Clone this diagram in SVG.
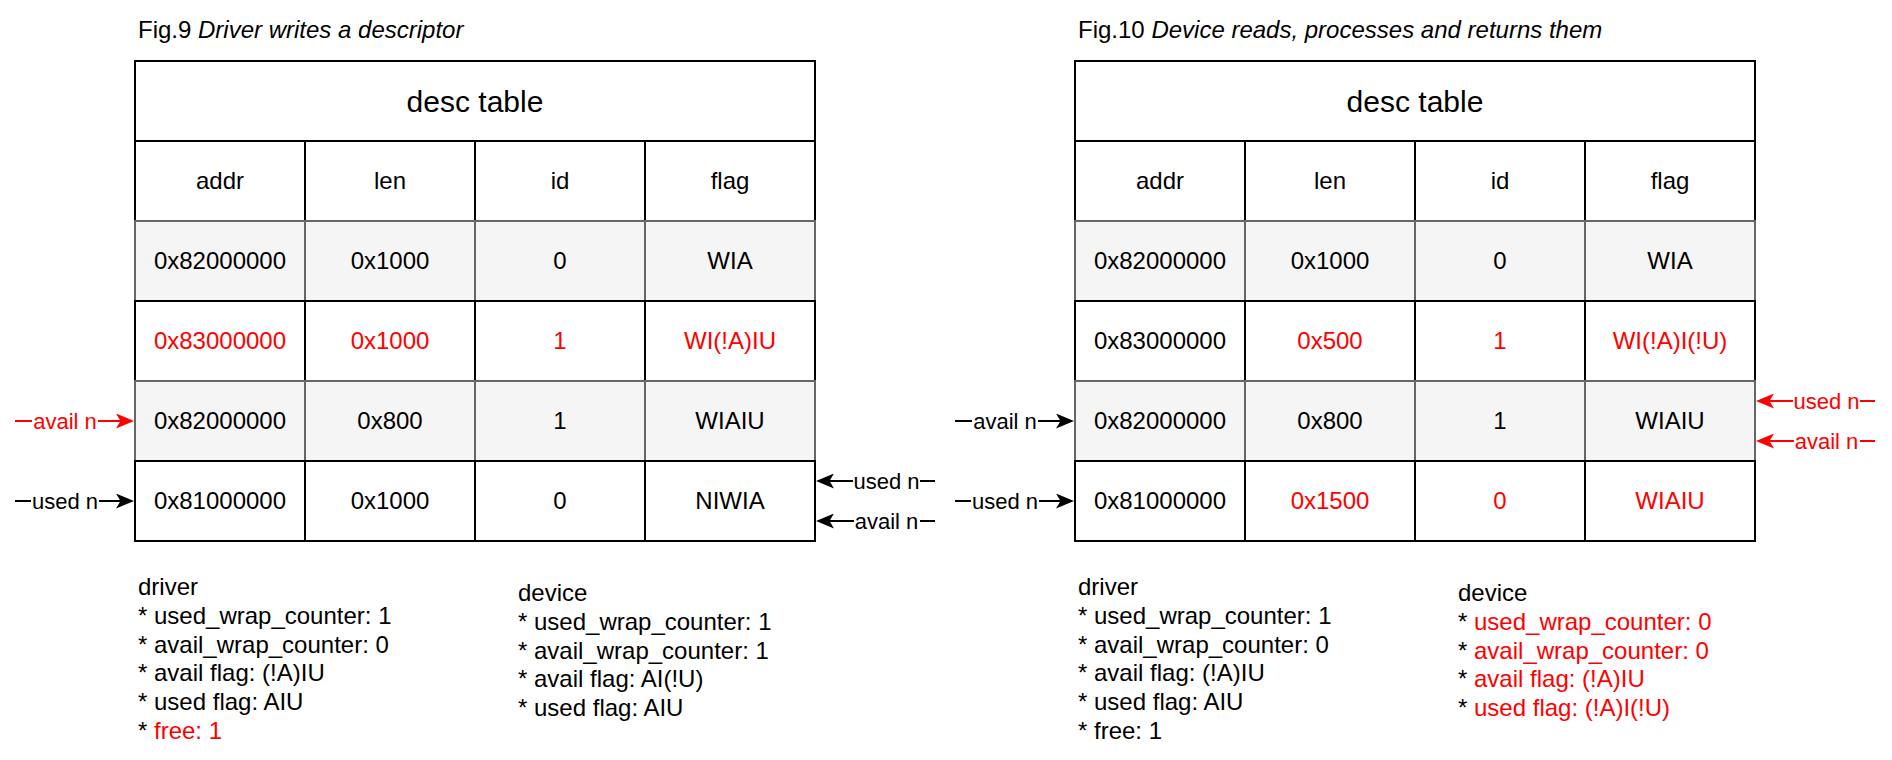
<svg xmlns="http://www.w3.org/2000/svg" width="1892" height="760" viewBox="0 0 1892 760">
<style>
text{font-family:"Liberation Sans",Arial,Helvetica,sans-serif;fill:#000}
.t{font-size:24px}
.c{font-size:24px;text-anchor:middle}
.h{font-size:30px;text-anchor:middle}
.lbl{font-size:22px;text-anchor:middle}
.r{fill:#ff0000}
.w{fill:#fff;stroke:#000;stroke-width:2}
.g{fill:#f5f5f5;stroke:#666;stroke-width:2}
.e{fill:none;stroke:#000;stroke-width:2}
.er{fill:none;stroke:#ff0000;stroke-width:2}
.bg{fill:#fff}
</style>
<defs>
<marker id="ab" viewBox="0 0 18 15" refX="10" refY="7.5" markerWidth="18" markerHeight="15" markerUnits="userSpaceOnUse" orient="auto"><path d="M0,0 L18,7.5 L0,15 L4.5,7.5 Z" fill="#000"/></marker>
<marker id="ar" viewBox="0 0 18 15" refX="10" refY="7.5" markerWidth="18" markerHeight="15" markerUnits="userSpaceOnUse" orient="auto"><path d="M0,0 L18,7.5 L0,15 L4.5,7.5 Z" fill="#ff0000"/></marker>
</defs>

<g id="title9"><text class="t" x="138" y="38">Fig.9 <tspan font-style="italic">Driver writes a descriptor</tspan></text></g>
<g id="title10"><text class="t" x="1078" y="38">Fig.10 <tspan font-style="italic">Device reads, processes and returns them</tspan></text></g>

<!-- Left table -->
<g id="t9-header"><rect class="w" x="135" y="61" width="680" height="80"/><text class="h" x="475" y="112">desc table</text></g>
<g id="t9-cols">
<rect class="w" x="135" y="141" width="170" height="80"/><rect class="w" x="305" y="141" width="170" height="80"/><rect class="w" x="475" y="141" width="170" height="80"/><rect class="w" x="645" y="141" width="170" height="80"/>
<text class="c" x="220" y="189">addr</text><text class="c" x="390" y="189">len</text><text class="c" x="560" y="189">id</text><text class="c" x="730" y="189">flag</text>
</g>
<g id="t9-row1">
<rect class="g" x="135" y="221" width="170" height="80"/><rect class="g" x="305" y="221" width="170" height="80"/><rect class="g" x="475" y="221" width="170" height="80"/><rect class="g" x="645" y="221" width="170" height="80"/>
<text class="c" x="220" y="269">0x82000000</text><text class="c" x="390" y="269">0x1000</text><text class="c" x="560" y="269">0</text><text class="c" x="730" y="269">WIA</text>
</g>
<g id="t9-row2">
<rect class="w" x="135" y="301" width="170" height="80"/><rect class="w" x="305" y="301" width="170" height="80"/><rect class="w" x="475" y="301" width="170" height="80"/><rect class="w" x="645" y="301" width="170" height="80"/>
<text class="c r" x="220" y="349">0x83000000</text><text class="c r" x="390" y="349">0x1000</text><text class="c r" x="560" y="349">1</text><text class="c r" x="730" y="349">WI(!A)IU</text>
</g>
<g id="t9-row3">
<rect class="g" x="135" y="381" width="170" height="80"/><rect class="g" x="305" y="381" width="170" height="80"/><rect class="g" x="475" y="381" width="170" height="80"/><rect class="g" x="645" y="381" width="170" height="80"/>
<text class="c" x="220" y="429">0x82000000</text><text class="c" x="390" y="429">0x800</text><text class="c" x="560" y="429">1</text><text class="c" x="730" y="429">WIAIU</text>
</g>
<g id="t9-row4">
<rect class="w" x="135" y="461" width="170" height="80"/><rect class="w" x="305" y="461" width="170" height="80"/><rect class="w" x="475" y="461" width="170" height="80"/><rect class="w" x="645" y="461" width="170" height="80"/>
<text class="c" x="220" y="509">0x81000000</text><text class="c" x="390" y="509">0x1000</text><text class="c" x="560" y="509">0</text><text class="c" x="730" y="509">NIWIA</text>
</g>

<!-- Right table -->
<g id="t10-header"><rect class="w" x="1075" y="61" width="680" height="80"/><text class="h" x="1415" y="112">desc table</text></g>
<g id="t10-cols">
<rect class="w" x="1075" y="141" width="170" height="80"/><rect class="w" x="1245" y="141" width="170" height="80"/><rect class="w" x="1415" y="141" width="170" height="80"/><rect class="w" x="1585" y="141" width="170" height="80"/>
<text class="c" x="1160" y="189">addr</text><text class="c" x="1330" y="189">len</text><text class="c" x="1500" y="189">id</text><text class="c" x="1670" y="189">flag</text>
</g>
<g id="t10-row1">
<rect class="g" x="1075" y="221" width="170" height="80"/><rect class="g" x="1245" y="221" width="170" height="80"/><rect class="g" x="1415" y="221" width="170" height="80"/><rect class="g" x="1585" y="221" width="170" height="80"/>
<text class="c" x="1160" y="269">0x82000000</text><text class="c" x="1330" y="269">0x1000</text><text class="c" x="1500" y="269">0</text><text class="c" x="1670" y="269">WIA</text>
</g>
<g id="t10-row2">
<rect class="w" x="1075" y="301" width="170" height="80"/><rect class="w" x="1245" y="301" width="170" height="80"/><rect class="w" x="1415" y="301" width="170" height="80"/><rect class="w" x="1585" y="301" width="170" height="80"/>
<text class="c" x="1160" y="349">0x83000000</text><text class="c r" x="1330" y="349">0x500</text><text class="c r" x="1500" y="349">1</text><text class="c r" x="1670" y="349">WI(!A)I(!U)</text>
</g>
<g id="t10-row3">
<rect class="g" x="1075" y="381" width="170" height="80"/><rect class="g" x="1245" y="381" width="170" height="80"/><rect class="g" x="1415" y="381" width="170" height="80"/><rect class="g" x="1585" y="381" width="170" height="80"/>
<text class="c" x="1160" y="429">0x82000000</text><text class="c" x="1330" y="429">0x800</text><text class="c" x="1500" y="429">1</text><text class="c" x="1670" y="429">WIAIU</text>
</g>
<g id="t10-row4">
<rect class="w" x="1075" y="461" width="170" height="80"/><rect class="w" x="1245" y="461" width="170" height="80"/><rect class="w" x="1415" y="461" width="170" height="80"/><rect class="w" x="1585" y="461" width="170" height="80"/>
<text class="c" x="1160" y="509">0x81000000</text><text class="c r" x="1330" y="509">0x1500</text><text class="c r" x="1500" y="509">0</text><text class="c r" x="1670" y="509">WIAIU</text>
</g>

<!-- Connectors -->
<g id="connectors">
<path class="er" d="M15,421 L126,421" marker-end="url(#ar)"/>
<rect class="bg" x="32" y="408" width="66" height="24"/><text class="lbl r" x="65" y="428.5">avail n</text>
<path class="e" d="M15,501 L126,501" marker-end="url(#ab)"/>
<rect class="bg" x="31" y="488" width="68" height="24"/><text class="lbl" x="65" y="508.5">used n</text>
<path class="e" d="M935,481 L824,481" marker-end="url(#ab)"/>
<rect class="bg" x="853" y="468" width="67" height="24"/><text class="lbl" x="886.5" y="488.5">used n</text>
<path class="e" d="M935,521 L824,521" marker-end="url(#ab)"/>
<rect class="bg" x="854" y="508" width="66" height="24"/><text class="lbl" x="886.5" y="528.5">avail n</text>

<path class="e" d="M955,421 L1066,421" marker-end="url(#ab)"/>
<rect class="bg" x="972" y="408" width="66" height="24"/><text class="lbl" x="1005" y="428.5">avail n</text>
<path class="e" d="M955,501 L1066,501" marker-end="url(#ab)"/>
<rect class="bg" x="971" y="488" width="68" height="24"/><text class="lbl" x="1005" y="508.5">used n</text>
<path class="er" d="M1875,401 L1764,401" marker-end="url(#ar)"/>
<rect class="bg" x="1793" y="388" width="67" height="24"/><text class="lbl r" x="1826.5" y="408.5">used n</text>
<path class="er" d="M1875,441 L1764,441" marker-end="url(#ar)"/>
<rect class="bg" x="1794" y="428" width="66" height="24"/><text class="lbl r" x="1826.5" y="448.5">avail n</text>
</g>

<!-- State notes -->
<g id="driver9"><text class="t" x="138" y="595">
<tspan x="138" dy="0">driver</tspan>
<tspan x="138" dy="28.8">* used_wrap_counter: 1</tspan>
<tspan x="138" dy="28.8">* avail_wrap_counter: 0</tspan>
<tspan x="138" dy="28.8">* avail flag: (!A)IU</tspan>
<tspan x="138" dy="28.8">* used flag: AIU</tspan>
<tspan x="138" dy="28.8">* <tspan class="r">free: 1</tspan></tspan>
</text></g>
<g id="device9"><text class="t" x="518" y="601">
<tspan x="518" dy="0">device</tspan>
<tspan x="518" dy="28.8">* used_wrap_counter: 1</tspan>
<tspan x="518" dy="28.8">* avail_wrap_counter: 1</tspan>
<tspan x="518" dy="28.8">* avail flag: AI(!U)</tspan>
<tspan x="518" dy="28.8">* used flag: AIU</tspan>
</text></g>
<g id="driver10"><text class="t" x="1078" y="595">
<tspan x="1078" dy="0">driver</tspan>
<tspan x="1078" dy="28.8">* used_wrap_counter: 1</tspan>
<tspan x="1078" dy="28.8">* avail_wrap_counter: 0</tspan>
<tspan x="1078" dy="28.8">* avail flag: (!A)IU</tspan>
<tspan x="1078" dy="28.8">* used flag: AIU</tspan>
<tspan x="1078" dy="28.8">* free: 1</tspan>
</text></g>
<g id="device10"><text class="t" x="1458" y="601">
<tspan x="1458" dy="0">device</tspan>
<tspan x="1458" dy="28.8">* <tspan class="r">used_wrap_counter: 0</tspan></tspan>
<tspan x="1458" dy="28.8">* <tspan class="r">avail_wrap_counter: 0</tspan></tspan>
<tspan x="1458" dy="28.8">* <tspan class="r">avail flag: (!A)IU</tspan></tspan>
<tspan x="1458" dy="28.8">* <tspan class="r">used flag: (!A)I(!U)</tspan></tspan>
</text></g>
</svg>
